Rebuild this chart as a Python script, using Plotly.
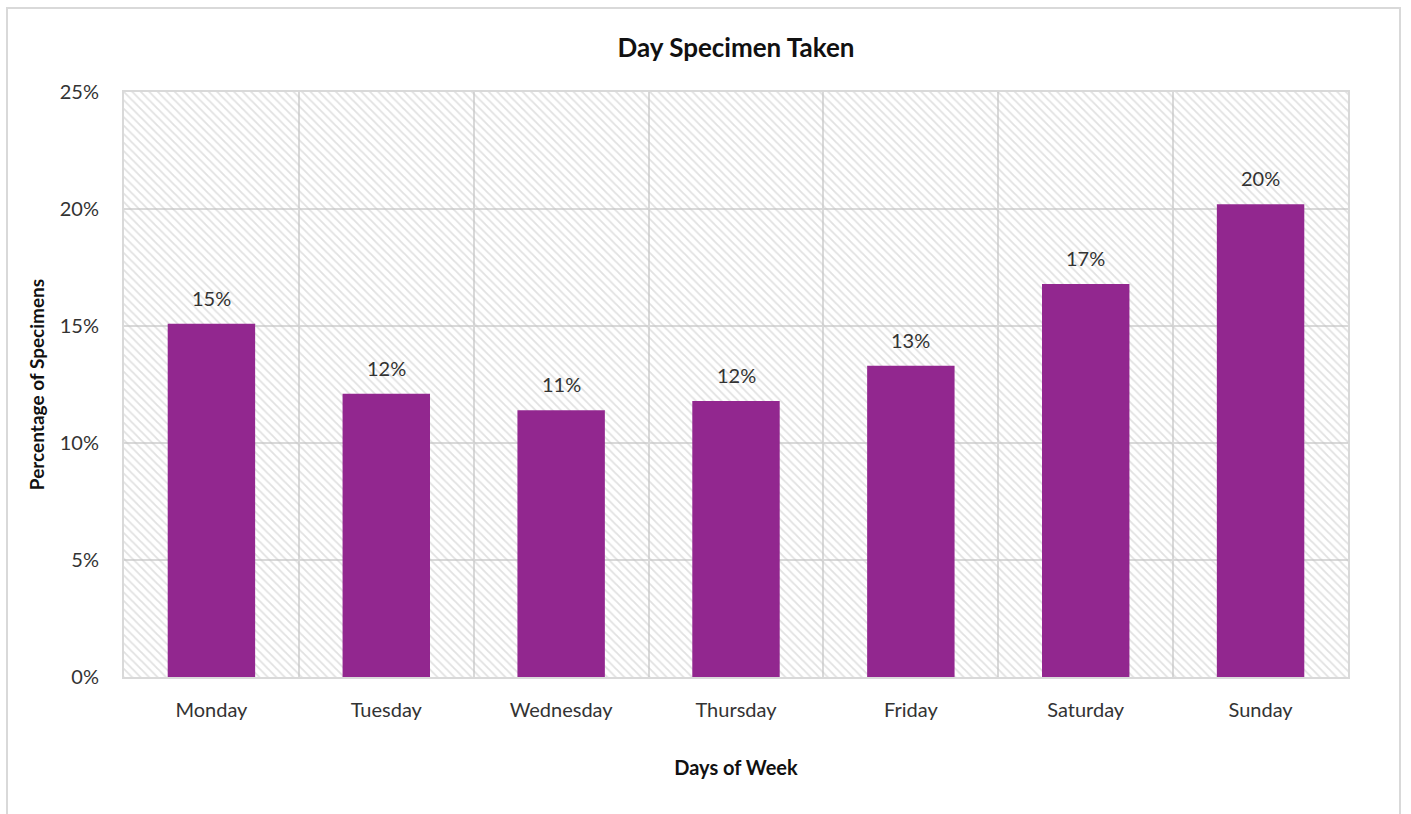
import plotly.graph_objects as go

days = ["Monday", "Tuesday", "Wednesday", "Thursday", "Friday", "Saturday", "Sunday"]
pct = [15.1, 12.1, 11.4, 11.8, 13.3, 16.8, 20.2]
y_ticks = [0, 5, 10, 15, 20, 25]
y_tick_labels = ["0%", "5%", "10%", "15%", "20%", "25%"]
y_max = 25

FONT = "Lato"
GRID = "#d9d9d9"
BAR = "#92278F"
TXT = "#333333"

W, H = 1411, 814
L, T, R, B = 124, 92, 63, 137
PW, PH = W - L - R, H - T - B

fig = go.Figure()

# hatched plot-area background
fig.add_trace(go.Bar(
    x=days, y=[y_max] * len(days), width=1,
    marker=dict(color="rgba(0,0,0,0)", line=dict(width=0),
                pattern=dict(shape="\\", fgcolor="#c4c4c4", bgcolor="rgba(0,0,0,0)",
                             size=6, solidity=0.3, fillmode="overlay")),
    hoverinfo="skip", showlegend=False,
))

fig.add_trace(go.Bar(
    x=days, y=pct, width=0.5,
    marker=dict(color=BAR, line=dict(width=0)),
    hoverinfo="x+y", showlegend=False,
))

annotations = [
    dict(x=d, y=v, xref="x", yref="y", text=f"{v:.0f}%", showarrow=False,
         yanchor="bottom", yshift=12, font=dict(family=FONT, size=20, color=TXT))
    for d, v in zip(days, pct)
]

fig.update_layout(
    width=W, height=H,
    barmode="overlay",
    paper_bgcolor="white", plot_bgcolor="white",
    margin=dict(l=L, r=R, t=T, b=B),
    title=dict(text="<b>Day Specimen Taken</b>", x=0.5, xref="paper", xanchor="center",
               y=1 - 48 / H, yanchor="middle",
               font=dict(family=FONT, size=26, color="#111111")),
    font=dict(family=FONT, color=TXT),
    annotations=annotations,
    xaxis=dict(
        range=[-0.5, 6.5], tickson="boundaries", showgrid=True, gridcolor=GRID, gridwidth=2,
        showline=True, linecolor=GRID, linewidth=2, mirror=True,
        ticks="", tickfont=dict(family=FONT, size=20, color=TXT), ticklabelstandoff=14,
        title=dict(text="<b>Days of Week</b>", standoff=41,
                   font=dict(family=FONT, size=20, color="#111111")),
    ),
    yaxis=dict(
        range=[0, y_max], tickvals=y_ticks, ticktext=y_tick_labels,
        showgrid=True, gridcolor=GRID, gridwidth=2, zeroline=False,
        showline=True, linecolor=GRID, linewidth=2, mirror=True,
        ticks="", tickfont=dict(family=FONT, size=20, color=TXT), ticklabelstandoff=19,
        title=dict(text="<b>Percentage of Specimens</b>", standoff=10,
                   font=dict(family=FONT, size=19, color="#111111")),
    ),
    shapes=[dict(type="rect", xref="paper", yref="paper",
                 x0=(7 - L) / PW, x1=(1400 - L) / PW,
                 y0=-(H + 10 - T - PH) / PH, y1=1 + (T - 8) / PH,
                 line=dict(color="#d9d9d9", width=2), fillcolor="rgba(0,0,0,0)", layer="below")],
)

fig.write_html("out.html", config={"displayModeBar": False},
               post_script="document.body.style.margin='0px';")
